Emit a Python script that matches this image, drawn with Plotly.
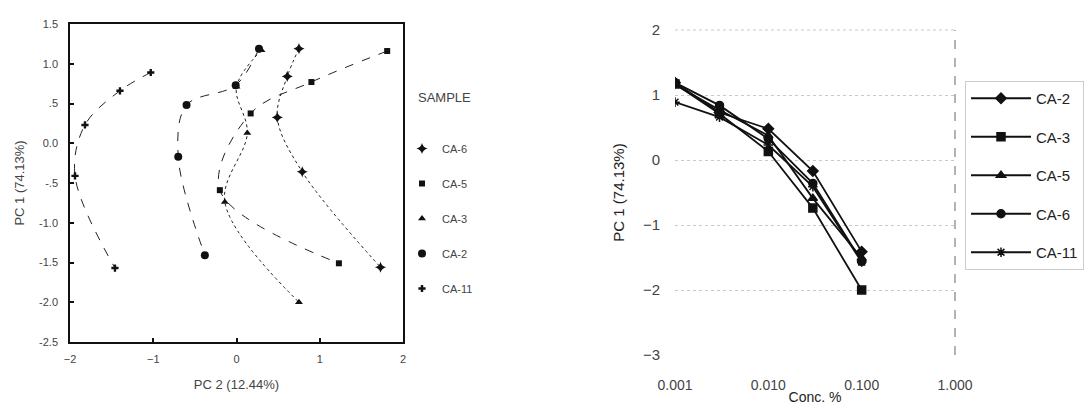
import plotly.graph_objects as go

# ---- data ----
samples = ["CA-2", "CA-3", "CA-5", "CA-6", "CA-11"]
conc = [0.001, 0.003, 0.01, 0.03, 0.1]

pc1_ca2 = [1.19, 0.73, 0.48, -0.17, -1.41]
pc1_ca3 = [1.17, 0.71, 0.13, -0.74, -2.00]
pc1_ca5 = [1.16, 0.77, 0.375, -0.59, -1.51]
pc1_ca6 = [1.19, 0.84, 0.325, -0.36, -1.56]
pc1_ca11 = [0.89, 0.66, 0.23, -0.41, -1.57]

pc2_ca2 = [0.27, -0.01, -0.60, -0.70, -0.38]
pc2_ca3 = [0.30, 0.00, 0.13, -0.14, 0.75]
pc2_ca5 = [1.81, 0.90, 0.17, -0.20, 1.23]
pc2_ca6 = [0.75, 0.61, 0.49, 0.79, 1.73]
pc2_ca11 = [-1.03, -1.40, -1.82, -1.94, -1.46]

left_ticks_y = [1.5, 1.0, 0.5, 0.0, -0.5, -1.0, -1.5, -2.0, -2.5]
left_ticktext_y = ["1.5", "1.0", ".5", "0.0", "-.5", "-1.0", "-1.5", "-2.0", "-2.5"]
left_ticks_x = [-2, -1, 0, 1, 2]
right_ticks_x = [0.001, 0.01, 0.1, 1.0]
right_ticktext_x = ["0.001", "0.010", "0.100", "1.000"]
right_ticks_y = [2, 1, 0, -1, -2, -3]

pc1 = {"CA-2": pc1_ca2, "CA-3": pc1_ca3, "CA-5": pc1_ca5, "CA-6": pc1_ca6, "CA-11": pc1_ca11}
pc2 = {"CA-2": pc2_ca2, "CA-3": pc2_ca3, "CA-5": pc2_ca5, "CA-6": pc2_ca6, "CA-11": pc2_ca11}

# ---- styles ----
left_order = ["CA-6", "CA-5", "CA-3", "CA-2", "CA-11"]
left_sym = {"CA-6": "star-diamond", "CA-5": "square", "CA-3": "triangle-up",
            "CA-2": "circle", "CA-11": "cross"}
left_size = {"CA-6": 8, "CA-5": 6, "CA-3": 7, "CA-2": 8, "CA-11": 6}
left_dash = {"CA-6": "dot", "CA-5": "dash", "CA-3": "dot", "CA-2": "dash", "CA-11": "dash"}

right_sym = {"CA-2": "diamond", "CA-3": "square", "CA-5": "triangle-up",
             "CA-6": "circle", "CA-11": "asterisk-open"}

FONT = "Arial, Liberation Sans, sans-serif"
TXT = "#444444"

fig = go.Figure()

# left: spline lines
for s in left_order:
    fig.add_trace(go.Scatter(
        x=pc2[s], y=pc1[s], mode="lines", line=dict(color="#222", width=1, dash=left_dash[s], shape="spline"),
        xaxis="x", yaxis="y", showlegend=False, hoverinfo="skip"))
# left: markers (legend)
for s in left_order:
    fig.add_trace(go.Scatter(
        x=pc2[s], y=pc1[s], mode="markers", name=s,
        marker=dict(symbol=left_sym[s], size=left_size[s], color="#111"),
        xaxis="x", yaxis="y", legend="legend", legendgroup="l" + s))

# right
for s in samples:
    fig.add_trace(go.Scatter(
        x=conc, y=pc1[s], mode="lines+markers", name=s,
        line=dict(color="#111", width=1.8),
        marker=dict(symbol=right_sym[s], size=8, color="#111",
                    line=dict(color="#111", width=1.5)),
        xaxis="x2", yaxis="y2", legend="legend2", legendgroup="r" + s))

fig.update_layout(
    width=1091, height=409,
    margin=dict(l=0, r=0, t=0, b=0, autoexpand=False),
    paper_bgcolor="white", plot_bgcolor="white",
    font=dict(family=FONT, color=TXT, size=11),
    showlegend=True,
    xaxis=dict(domain=[70 / 1091, 403 / 1091], range=[-2, 2], tickvals=left_ticks_x,
               showline=True, mirror=True, linecolor="#111", linewidth=1.5,
               ticks="inside", ticklen=4, tickwidth=2, tickcolor="#111",
               showgrid=False, zeroline=False, tickfont=dict(size=11, color=TXT),
               ticklabelstandoff=6, automargin=False,
               title=dict(text="PC 2 (12.44%)", font=dict(size=13, color=TXT), standoff=16)),
    yaxis=dict(domain=[1 - 342 / 409, 1 - 24 / 409], range=[-2.5, 1.5],
               tickvals=left_ticks_y, ticktext=left_ticktext_y,
               showline=True, mirror=True, linecolor="#111", linewidth=1.5,
               ticks="inside", ticklen=4, tickwidth=2, tickcolor="#111",
               showgrid=False, zeroline=False, tickfont=dict(size=11, color=TXT),
               ticklabelstandoff=8, automargin=False,
               title=dict(text="PC 1 (74.13%)", font=dict(size=13, color=TXT), standoff=12)),
    xaxis2=dict(domain=[675 / 1091, 955 / 1091], type="log", range=[-3, 0],
                tickvals=right_ticks_x, ticktext=right_ticktext_x,
                showline=False, ticks="", showgrid=False, zeroline=False,
                ticklabelstandoff=20, tickfont=dict(size=14, color=TXT), automargin=False,
                title=dict(text="Conc. %", font=dict(size=14, color="#222"), standoff=0),
                anchor="y2"),
    yaxis2=dict(domain=[1 - 355 / 409, 1 - 30 / 409], range=[-3, 2], tickvals=right_ticks_y,
                showline=False, ticks="", showgrid=True, gridcolor="#c8c8c8", griddash="dot",
                gridwidth=1, zeroline=False, ticklabelstandoff=14, automargin=False,
                tickfont=dict(size=15, color=TXT),
                title=dict(text="PC 1 (74.13%)", font=dict(size=15, color="#222"), standoff=14),
                anchor="x2"),
    legend=dict(x=402 / 1091, y=1 - 134 / 409, xanchor="left", yanchor="top",
                font=dict(size=11, color=TXT), traceorder="grouped", tracegroupgap=16,
                itemwidth=30, bgcolor="rgba(0,0,0,0)"),
    legend2=dict(x=965 / 1091, y=1 - 81 / 409, xanchor="left", yanchor="top",
                 font=dict(size=15, color="#222"), traceorder="grouped", tracegroupgap=16,
                 itemwidth=60, bordercolor="#cccccc", borderwidth=1, bgcolor="rgba(0,0,0,0)"),
    annotations=[
        dict(text="SAMPLE", xref="paper", yref="paper", x=416 / 1091, y=1 - 97 / 409,
             xanchor="left", yanchor="middle", showarrow=False,
             font=dict(size=13, color=TXT, family=FONT)),
    ],
    shapes=[
        dict(type="line", xref="x2 domain", yref="y2 domain", x0=1, x1=1, y0=0, y1=1,
             line=dict(color="#666", width=1, dash="dash")),
        dict(type="line", xref="x2 domain", yref="y2 domain", x0=0, x1=1, y0=1, y1=1,
             line=dict(color="#c8c8c8", width=1, dash="dot")),
    ],
)

fig.write_html("out.html", config={"displayModeBar": False},
               post_script="document.body.style.margin='0';document.body.style.overflow='hidden';")
